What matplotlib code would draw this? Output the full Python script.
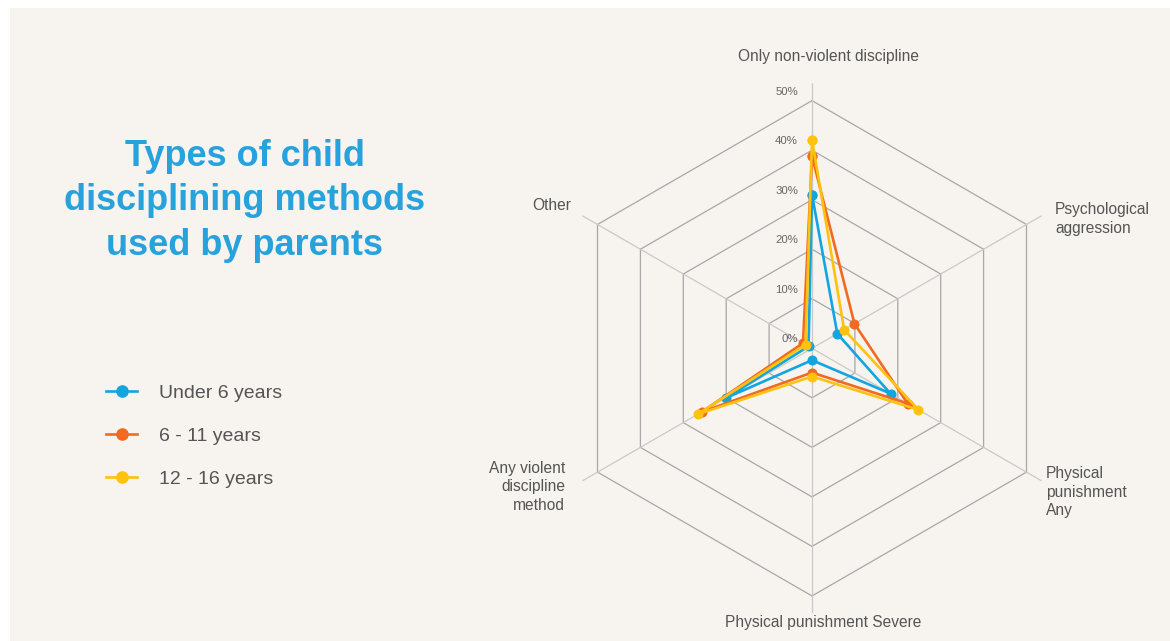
import numpy as np
import matplotlib
matplotlib.use("Agg")
import matplotlib.pyplot as plt
from matplotlib.patches import Rectangle
import matplotlib.transforms as mtransforms

plt.rcParams['font.family'] = ['Liberation Sans', 'DejaVu Sans']

# ---- data ----
categories = ["Only non-violent discipline", "Psychological\naggression",
              "Physical\npunishment\nAny", "Physical punishment Severe",
              "Any violent\ndiscipline\nmethod", "Other"]
series_names = ["Under 6 years", "6 - 11 years", "12 - 16 years"]
under6 = [31.0, 5.9, 18.3, 2.4, 20.1, 0.8]
age6_11 = [38.8, 9.9, 22.3, 4.9, 25.7, 2.1]
age12_16 = [42.1, 7.5, 24.8, 5.7, 26.6, 1.5]
ring_values = [10, 20, 30, 40, 50]
tick_values = [0, 10, 20, 30, 40, 50]
tick_labels = ["0%", "10%", "20%", "30%", "40%", "50%"]

colors = ["#12A5E0", "#F26A21", "#FFC20E"]
bg = "#F7F3EF"
text_col = "#555555"

W, H = 1170, 641
fig = plt.figure(figsize=(W / 100, H / 100), dpi=100, facecolor="white")
fig.patches.append(Rectangle((10 / W, 0), 1 - 10 / W, 1 - 8 / H,
                             transform=fig.transFigure, facecolor=bg,
                             edgecolor="none", zorder=-10))

# polar axes positioned in pixels
cx, cy = 812, 348.3
rpix = 265
rmax = 53.5
ax = fig.add_axes([(cx - rpix) / W, (H - cy - rpix) / H, 2 * rpix / W, 2 * rpix / H],
                  projection="polar")
ax.set_facecolor("none")
ax.patch.set_alpha(0)
ax.set_theta_offset(np.pi / 2)
ax.set_theta_direction(-1)
ax.set_ylim(0, rmax)
ax.grid(False)
ax.spines["polar"].set_visible(False)
ax.set_xticks([])
ax.set_yticks([])

n = len(categories)
theta = np.arange(n) * 2 * np.pi / n
theta_c = np.append(theta, theta[0])

# hexagon rings
for rv in ring_values:
    ax.plot(theta_c, [rv] * (n + 1), color="#A8A8A8", lw=0.9, zorder=1)
# spokes
for th in theta:
    ax.plot([th, th], [0, rmax], color="#C9C9C9", lw=0.9, zorder=1)

# series
for vals, col, name in zip([under6, age6_11, age12_16], colors, series_names):
    v = np.append(vals, vals[0])
    ax.plot(theta_c, v, color=col, lw=1.9, marker="o", markersize=6.2,
            zorder=3, label=name)

# tick labels along top axis
offs = mtransforms.offset_copy(ax.transData, fig=fig, x=-14, y=9, units="dots")
for tv, tl in zip(tick_values, tick_labels):
    ax.text(0, tv, tl, transform=offs, ha="right", va="center",
            fontsize=8.2, color="#666666")

# category labels (figure pixel coordinates)
def fx(x):
    return x / W

def fy(y):
    return 1 - y / H

lab_kw = dict(fontsize=11.2, color=text_col, linespacing=1.32)
fig.text(fx(828), fy(57), categories[0], ha="center", va="center", **lab_kw)
fig.text(fx(1055), fy(219), categories[1], ha="left", va="center", **lab_kw)
fig.text(fx(1046), fy(492), categories[2], ha="left", va="center", **lab_kw)
fig.text(fx(823), fy(623), categories[3], ha="center", va="center", **lab_kw)
fig.text(fx(565), fy(487), categories[4], ha="right", va="center", multialignment="right", **lab_kw)
fig.text(fx(571), fy(205), categories[5], ha="right", va="center", **lab_kw)

# title
fig.text(fx(245), fy(201), "Types of child\ndisciplining methods\nused by parents",
         ha="center", va="center", fontsize=26, fontweight="bold",
         color="#27A2DD", linespacing=1.34)

# legend
handles, labels = ax.get_legend_handles_labels()
leg = fig.legend(handles, labels, loc="center left",
                 bbox_to_anchor=(fx(89), fy(436)), frameon=False,
                 fontsize=14, labelcolor=text_col, handlelength=1.55,
                 handletextpad=1.15, labelspacing=1.3, markerscale=1.3)

fig.savefig("out.png", dpi=100, facecolor="white")
